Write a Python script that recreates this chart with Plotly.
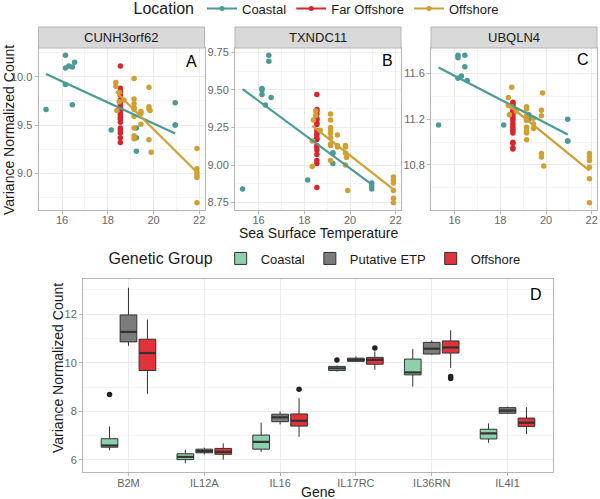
import numpy as np
import plotly.graph_objects as go

# ---------------- Data: facets A-C (sea surface temperature vs count) ----------------
genes_top = ["CUNH3orf62", "TXNDC11", "UBQLN4"]
panel_letters = ["A", "B", "C", "D"]
locations = ["Coastal", "Far Offshore", "Offshore"]

coastal_sst = [15.3, 16.15, 16.15, 16.15, 16.3, 16.45, 16.45, 16.55, 18.15,
               19.25, 19.25, 19.25, 20.95, 20.95, 20.95]
far_offshore_sst = [18.55, 18.55, 18.55, 18.55, 18.55, 18.55, 18.55, 18.55, 18.55, 18.55,
                    18.55, 18.55, 18.55, 18.55, 18.55, 18.55, 18.55, 18.55, 18.55, 18.55]
offshore_sst = [18.35, 18.35, 18.4, 18.5, 18.5, 18.7,
                19.15, 19.15, 19.15, 19.15, 19.15, 19.15, 19.15, 19.15, 19.15,
                19.45, 19.45, 19.45, 19.8, 19.8, 19.8, 19.8, 19.85, 19.9,
                21.9, 21.9, 21.9, 21.9, 21.9, 21.9]

cunh_coastal = [9.66, 10.22, 10.09, 9.92, 10.11, 10.10, 9.71, 10.15, 9.45,
                9.47, 9.37, 9.23, 9.73, 9.50, 9.50]
cunh_far = [10.11, 9.88, 9.85, 9.81, 9.76, 9.74, 9.71, 9.68, 9.66, 9.65,
            9.64, 9.61, 9.58, 9.56, 9.53, 9.47, 9.45, 9.42, 9.37, 9.32]
cunh_offshore = [9.94, 9.90, 9.65, 9.84, 9.74, 9.76,
                 9.98, 9.77, 9.72, 9.68, 9.66, 9.59, 9.47, 9.39, 9.36,
                 9.64, 9.62, 9.51, 9.89, 9.69, 9.67, 9.35, 9.65, 9.22,
                 9.26, 9.05, 9.01, 8.98, 8.96, 8.70]

txndc_coastal = [8.84, 9.51, 9.50, 9.47, 9.40, 9.73, 9.69, 9.45, 8.90,
                 9.08, 9.01, 9.08, 8.88, 8.86, 8.84]
txndc_far = [9.47, 9.37, 9.36, 9.34, 9.31, 9.30, 9.28, 9.27, 9.23, 9.21,
             9.20, 9.18, 9.17, 9.13, 9.12, 9.10, 9.07, 9.03, 9.01, 8.85]
txndc_offshore = [9.16, 8.99, 9.30, 9.36, 9.33, 9.23,
                  9.34, 9.30, 9.25, 9.23, 9.21, 9.18, 9.14, 9.13, 9.03,
                  9.20, 9.13, 9.12, 9.13, 9.12, 9.08, 9.00, 9.05, 8.83,
                  8.92, 8.90, 8.88, 8.83, 8.78, 8.75]

ubqln_coastal = [11.15, 11.76, 11.74, 11.56, 11.58, 11.76, 11.66, 11.54, 11.15,
                 11.24, 11.22, 11.20, 11.20, 11.01, 11.01]
ubqln_far = [11.35, 11.34, 11.32, 11.31, 11.29, 11.27, 11.26, 11.25, 11.23, 11.21,
             11.19, 11.16, 11.14, 11.12, 11.10, 11.08, 11.00, 10.99, 10.95, 10.94]
ubqln_offshore = [11.39, 11.32, 11.24, 11.48, 11.31, 11.27,
                  11.31, 11.29, 11.23, 11.21, 11.19, 11.13, 11.10, 11.08, 11.02,
                  11.21, 11.16, 11.12, 11.28, 11.23, 10.90, 10.87, 11.43, 10.79,
                  10.90, 10.87, 10.84, 10.78, 10.68, 10.47]

# ---------------- Data: panel D (box plots) ----------------
genes_box = ["B2M", "IL12A", "IL16", "IL17RC", "IL36RN", "IL4I1"]
groups = ["Coastal", "Putative ETP", "Offshore"]

coastal_low = [6.39, 5.86, 6.33, 9.64, 9.02, 6.70]
coastal_q1 = [6.52, 6.01, 6.44, 9.68, 9.50, 6.86]
coastal_med = [6.59, 6.12, 6.74, 9.77, 9.60, 7.09]
coastal_q3 = [6.87, 6.25, 7.02, 9.85, 10.15, 7.26]
coastal_high = [7.38, 6.41, 7.53, 9.89, 10.57, 7.50]

etp_low = [10.70, 6.22, 7.46, 10.03, 10.33, 7.89]
etp_q1 = [10.86, 6.29, 7.57, 10.06, 10.36, 7.92]
etp_med = [11.27, 6.36, 7.75, 10.12, 10.58, 8.03]
etp_q3 = [11.97, 6.44, 7.88, 10.19, 10.84, 8.15]
etp_high = [13.09, 6.50, 7.99, 10.26, 10.92, 8.19]

offshore_low = [8.72, 6.01, 6.95, 9.71, 9.78, 7.06]
offshore_q1 = [9.68, 6.23, 7.39, 9.94, 10.40, 7.37]
offshore_med = [10.40, 6.33, 7.61, 10.12, 10.63, 7.53]
offshore_q3 = [10.97, 6.47, 7.89, 10.22, 10.90, 7.72]
offshore_high = [11.78, 6.68, 8.54, 10.47, 11.34, 8.17]

coastal_out_gene = ["B2M", "IL17RC"]
coastal_out_val = [8.69, 10.11]
etp_out_gene = []
etp_out_val = []
offshore_out_gene = ["IL16", "IL17RC", "IL36RN", "IL36RN"]
offshore_out_val = [8.91, 10.61, 9.43, 9.35]

# ---------------- Styling ----------------
W, H = 600, 499
FONT = "Liberation Sans, Arial, Helvetica, sans-serif"
loc_colors = {"Coastal": "#4A9A95", "Far Offshore": "#D8262C", "Offshore": "#D0A033"}
grp_colors = {"Coastal": "#8DD0AD", "Putative ETP": "#7C7C7C", "Offshore": "#E2323A"}
BORDER = "#b5b5b5"
GRID = "#ebebeb"
MINOR = "#f4f4f4"
TICKC = "#666666"


def fx(p):
    return p / W


def fy(p):
    return 1 - p / H


top_x_dom = [(38.5, 204.5), (235, 401), (431, 597)]
top_y_px = (48, 210)
strip_px = (27, 48)
d_x_px = (83, 553)
d_y_px = (279, 472)

fig = go.Figure()

top_data = [
    (cunh_coastal, cunh_far, cunh_offshore),
    (txndc_coastal, txndc_far, txndc_offshore),
    (ubqln_coastal, ubqln_far, ubqln_offshore),
]
sst = {"Coastal": coastal_sst, "Far Offshore": far_offshore_sst, "Offshore": offshore_sst}

all_sst = coastal_sst + far_offshore_sst + offshore_sst
xlo, xhi = min(all_sst), max(all_sst)
xpad = 0.05 * (xhi - xlo)
xrange_top = [xlo - xpad, xhi + xpad]

y_dticks = [0.5, 0.25, 0.4]
y_formats = [".1f", ".2f", ".1f"]

for i, vals in enumerate(top_data):
    xa = "x" if i == 0 else f"x{i+1}"
    ya = "y" if i == 0 else f"y{i+1}"
    yall = []
    # points
    for loc, yv in zip(locations, vals):
        yall += list(yv)
        fig.add_trace(go.Scatter(
            x=sst[loc], y=yv, mode="markers", xaxis=xa, yaxis=ya,
            marker=dict(color=loc_colors[loc], size=5.5),
            showlegend=False, hoverinfo="skip"))
    # regression lines (lm fit), only where x varies
    for loc, yv in zip(locations, vals):
        xv = np.array(sst[loc], dtype=float)
        if xv.max() - xv.min() < 1e-9:
            continue
        b1, b0 = np.polyfit(xv, np.array(yv, dtype=float), 1)
        xl = np.array([xv.min(), xv.max()])
        fig.add_trace(go.Scatter(
            x=xl, y=b0 + b1 * xl, mode="lines", xaxis=xa, yaxis=ya,
            line=dict(color=loc_colors[loc], width=2.2),
            showlegend=False, hoverinfo="skip"))
    ylo, yhi = min(yall), max(yall)
    ypad = 0.05 * (yhi - ylo)
    dom_x = [fx(top_x_dom[i][0]), fx(top_x_dom[i][1])]
    common = dict(showline=True, linecolor=BORDER, linewidth=1, mirror=True,
                  ticks="outside", ticklen=3, tickcolor=BORDER,
                  tickfont=dict(size=11, color=TICKC, family=FONT),
                  showgrid=True, gridcolor=GRID, gridwidth=1, zeroline=False)
    fig.layout[("xaxis" if i == 0 else f"xaxis{i+1}")] = dict(
        domain=dom_x, anchor=ya, range=xrange_top, dtick=2, tick0=16,
        ticklabelstandoff=-3,
        minor=dict(dtick=1, tick0=16, showgrid=True, gridcolor=MINOR, gridwidth=1),
        **common)
    fig.layout[("yaxis" if i == 0 else f"yaxis{i+1}")] = dict(
        domain=[fy(top_y_px[1]), fy(top_y_px[0])], anchor=xa,
        range=[ylo - ypad, yhi + ypad], dtick=y_dticks[i], tick0=0,
        tickformat=y_formats[i],
        minor=dict(dtick=y_dticks[i] / 2, tick0=0, showgrid=True, gridcolor=MINOR, gridwidth=1),
        **common)

# legend-only traces for Location
for loc in locations:
    fig.add_trace(go.Scatter(
        x=[None], y=[None], mode="lines+markers", name=loc, legend="legend",
        line=dict(color=loc_colors[loc], width=2), marker=dict(color=loc_colors[loc], size=5)))

# ---------------- Panel D ----------------
box_sets = [
    ("Coastal", coastal_low, coastal_q1, coastal_med, coastal_q3, coastal_high, coastal_out_gene, coastal_out_val),
    ("Putative ETP", etp_low, etp_q1, etp_med, etp_q3, etp_high, etp_out_gene, etp_out_val),
    ("Offshore", offshore_low, offshore_q1, offshore_med, offshore_q3, offshore_high, offshore_out_gene, offshore_out_val),
]
dodge = 0.25
box_w = 0.22
gene_pos = {g: k + 1 for k, g in enumerate(genes_box)}
dall = []
for j, (grp, lo, q1, med, q3, hi, og, ov) in enumerate(box_sets):
    off = (j - 1) * dodge
    xs = [gene_pos[g] + off for g in genes_box]
    dall += lo + hi + ov
    fig.add_trace(go.Box(
        x=xs, q1=q1, median=med, q3=q3, lowerfence=lo, upperfence=hi,
        width=box_w, xaxis="x4", yaxis="y4", name=grp, legend="legend2",
        fillcolor=grp_colors[grp], line=dict(color="#333333", width=1),
        boxpoints=False, whiskerwidth=0, hoverinfo="skip"))
    # thicker median bars
    mx, my = [], []
    for x0, m in zip(xs, med):
        mx += [x0 - box_w / 2, x0 + box_w / 2, None]
        my += [m, m, None]
    fig.add_trace(go.Scatter(x=mx, y=my, mode="lines", xaxis="x4", yaxis="y4",
                             line=dict(color="#333333", width=2.2),
                             showlegend=False, hoverinfo="skip"))
    if og:
        fig.add_trace(go.Scatter(
            x=[gene_pos[g] + off for g in og], y=ov, mode="markers", xaxis="x4", yaxis="y4",
            marker=dict(color="#222222", size=5.5), showlegend=False, hoverinfo="skip"))

dlo, dhi = min(dall), max(dall)
dpad = 0.05 * (dhi - dlo)
commonD = dict(showline=True, linecolor=BORDER, linewidth=1, mirror=True,
               ticks="outside", ticklen=3, tickcolor=BORDER,
               tickfont=dict(size=11, color=TICKC, family=FONT),
               showgrid=True, gridcolor=GRID, gridwidth=1, zeroline=False)
fig.layout.xaxis4 = dict(domain=[fx(d_x_px[0]), fx(d_x_px[1])], anchor="y4",
                         range=[0.4, len(genes_box) + 0.6],
                         tickvals=list(range(1, len(genes_box) + 1)), ticktext=genes_box,
                         ticklabelstandoff=-2,
                         **commonD)
fig.layout.yaxis4 = dict(domain=[fy(d_y_px[1]), fy(d_y_px[0])], anchor="x4",
                         range=[dlo - dpad, dhi + dpad], dtick=2, tick0=0,
                         minor=dict(dtick=1, tick0=0, showgrid=True, gridcolor=MINOR, gridwidth=1),
                         **commonD)

# ---------------- Strips, titles, letters ----------------
shapes = []
annotations = []
for i, g in enumerate(genes_top):
    x0, x1 = fx(top_x_dom[i][0]), fx(top_x_dom[i][1])
    shapes.append(dict(type="rect", xref="paper", yref="paper", x0=x0, x1=x1,
                       y0=fy(strip_px[1]), y1=fy(strip_px[0]),
                       fillcolor="#d9d9d9", line=dict(color=BORDER, width=1), layer="above"))
    annotations.append(dict(text=g, xref="paper", yref="paper", x=(x0 + x1) / 2,
                            y=fy((strip_px[0] + strip_px[1]) / 2), showarrow=False,
                            font=dict(size=13, color="#1a1a1a", family=FONT),
                            xanchor="center", yanchor="middle"))

letter_pos = [(0.919, 0.915), (0.916, 0.92), (0.914, 0.926)]
for i in range(3):
    xa = "x" if i == 0 else f"x{i+1}"
    ya = "y" if i == 0 else f"y{i+1}"
    annotations.append(dict(text=panel_letters[i], xref=f"{xa} domain", yref=f"{ya} domain",
                            x=letter_pos[i][0], y=letter_pos[i][1], showarrow=False,
                            font=dict(size=16, color="black", family=FONT),
                            xanchor="center", yanchor="middle"))
annotations.append(dict(text=panel_letters[3], xref="x4 domain", yref="y4 domain",
                        x=0.964, y=0.922, showarrow=False,
                        font=dict(size=16, color="black", family=FONT),
                        xanchor="center", yanchor="middle"))

annotations += [
    dict(text="Variance Normalized Count", xref="paper", yref="paper", x=fx(9), y=fy(130),
         textangle=-90, showarrow=False, font=dict(size=14, color="#1a1a1a", family=FONT),
         xanchor="center", yanchor="middle"),
    dict(text="Sea Surface Temperature", xref="paper", yref="paper", x=fx(318), y=fy(233),
         showarrow=False, font=dict(size=14, color="#1a1a1a", family=FONT),
         xanchor="center", yanchor="middle"),
    dict(text="Variance Normalized Count", xref="paper", yref="paper", x=fx(58), y=fy(368),
         textangle=-90, showarrow=False, font=dict(size=14, color="#1a1a1a", family=FONT),
         xanchor="center", yanchor="middle"),
    dict(text="Gene", xref="paper", yref="paper", x=fx(318), y=fy(492),
         showarrow=False, font=dict(size=14, color="#1a1a1a", family=FONT),
         xanchor="center", yanchor="middle"),
]

fig.update_layout(
    width=W, height=H, margin=dict(l=0, r=0, t=0, b=0, autoexpand=False),
    paper_bgcolor="white", plot_bgcolor="white",
    font=dict(family=FONT, color="#1a1a1a"),
    shapes=shapes, annotations=annotations, showlegend=True,
    legend=dict(title=dict(text="Location", font=dict(size=16, family=FONT), side="left"),
                orientation="h", x=fx(318), xanchor="center", y=fy(9), yanchor="middle",
                font=dict(size=13, family=FONT), bgcolor="rgba(0,0,0,0)", itemwidth=30),
    legend2=dict(title=dict(text="Genetic Group", font=dict(size=16, family=FONT), side="left"),
                 orientation="h", x=fx(316), xanchor="center", y=fy(259), yanchor="middle",
                 font=dict(size=13, family=FONT), bgcolor="rgba(0,0,0,0)", itemwidth=30),
)

fig.write_html("out.html", config={"displayModeBar": False},
               post_script="document.body.style.margin='0';document.body.style.padding='0';")
